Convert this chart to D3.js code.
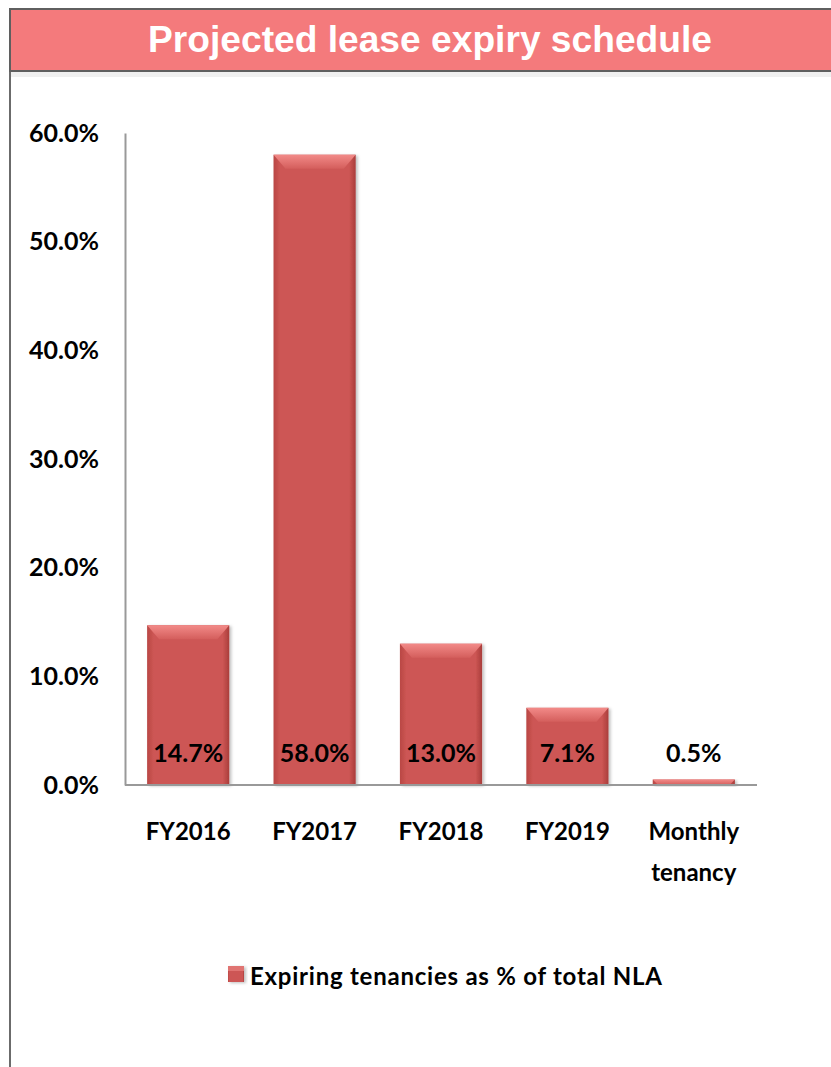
<!DOCTYPE html>
<html><head><meta charset="utf-8">
<script src="https://cdn.jsdelivr.net/npm/d3@7/dist/d3.min.js"></script>
<style>body{margin:0;background:#fff}svg{display:block}</style>
</head><body>
<script>
const categories = ["FY2016", "FY2017", "FY2018", "FY2019", "Monthly tenancy"];
const values = [14.7, 58.0, 13.0, 7.1, 0.5];
const valueLabels = ["14.7%", "58.0%", "13.0%", "7.1%", "0.5%"];
const yTicks = [0, 10, 20, 30, 40, 50, 60];
const title = "Projected lease expiry schedule";
const seriesName = "Expiring tenancies as % of total NLA";

const W = 831, H = 1067;
const svg = d3.select("body").append("svg").attr("width", W).attr("height", H);
const defs = svg.append("defs");
const g1 = defs.append("linearGradient").attr("id", "barH").attr("x1", 0).attr("x2", 1).attr("y1", 0).attr("y2", 0);
g1.append("stop").attr("offset", "0").attr("stop-color", "#b94744");
g1.append("stop").attr("offset", "0.08").attr("stop-color", "#cd5654");
g1.append("stop").attr("offset", "0.92").attr("stop-color", "#cd5654");
g1.append("stop").attr("offset", "1").attr("stop-color", "#a93d3b");
const g2 = defs.append("linearGradient").attr("id", "barTop").attr("x1", 0).attr("x2", 0).attr("y1", 0).attr("y2", 1);
g2.append("stop").attr("offset", "0").attr("stop-color", "#f28a88");
g2.append("stop").attr("offset", "1").attr("stop-color", "#d45e5c");
const flt = defs.append("filter").attr("id", "shadow").attr("x", "-10%").attr("y", "-10%").attr("width", "130%").attr("height", "130%");
flt.append("feDropShadow").attr("dx", 2).attr("dy", 1).attr("stdDeviation", 1.5).attr("flood-color", "#000").attr("flood-opacity", 0.25);

// frame
svg.append("line").attr("x1", 10).attr("x2", 10).attr("y1", 8).attr("y2", H).attr("stroke", "#6b6b6b").attr("stroke-width", 2);
svg.append("rect").attr("x", 10).attr("y", 9).attr("width", W).attr("height", 62)
  .attr("fill", "#f47a7c").attr("stroke", "#5f5f5f").attr("stroke-width", 2);
svg.append("rect").attr("x", 11).attr("y", 72).attr("width", W).attr("height", 5).attr("fill", "#e6e6e6").attr("opacity", 0.6);
svg.append("text").attr("x", 430).attr("y", 52).attr("text-anchor", "middle")
  .attr("font-family", "'Liberation Sans', Arial, sans-serif")
  .attr("font-weight", "bold").attr("font-size", 36).attr("fill", "#fff")
  .attr("textLength", 564).attr("lengthAdjust", "spacingAndGlyphs").text(title);

const x = d3.scaleBand().domain(categories).range([125, 757]).paddingInner(0.35).paddingOuter(0.175);
const y = d3.scaleLinear().domain([0, 60]).range([785, 133]);
const font = "Lato, 'Open Sans', sans-serif";

// y axis
const yAxis = d3.axisLeft(y).tickValues(yTicks).tickSize(0).tickPadding(26).tickFormat(d => d.toFixed(1) + "%");
const ya = svg.append("g").attr("transform", "translate(125,0)").call(yAxis);
ya.select(".domain").attr("stroke", "#999").attr("stroke-width", 2);
ya.selectAll("text").attr("font-family", font).attr("font-weight", "bold").attr("font-size", 25).attr("fill", "#000");

// bars
const bars = svg.append("g").selectAll("g").data(categories).join("g");
bars.append("rect")
  .attr("x", d => x(d)).attr("width", x.bandwidth())
  .attr("y", (d, i) => y(values[i])).attr("height", (d, i) => y(0) - y(values[i]))
  .attr("fill", "url(#barH)").attr("filter", "url(#shadow)");
bars.append("path")
  .attr("d", (d, i) => {
    const x0 = x(d), x1 = x0 + x.bandwidth(), t = y(values[i]), h = Math.min(14, (y(0) - t));
    const b = Math.min(12, h);
    return `M${x0},${t}L${x1},${t}L${x1 - b},${t + h}L${x0 + b},${t + h}Z`;
  })
  .attr("fill", "url(#barTop)");

// x axis line
svg.append("line").attr("x1", 125).attr("x2", 757).attr("y1", y(0)).attr("y2", y(0)).attr("stroke", "#999").attr("stroke-width", 2);

// value labels
svg.append("g").selectAll("text").data(categories).join("text")
  .attr("x", d => x(d) + x.bandwidth() / 2).attr("y", 762)
  .attr("text-anchor", "middle").attr("font-family", font).attr("font-weight", "bold").attr("font-size", 25).attr("fill", "#000")
  .text((d, i) => valueLabels[i]);

// category labels
const xl = svg.append("g").selectAll("text").data(categories).join("text")
  .attr("x", d => x(d) + x.bandwidth() / 2).attr("y", 840)
  .attr("text-anchor", "middle").attr("font-family", font).attr("font-weight", "bold").attr("font-size", 24).attr("fill", "#000");
xl.each(function(d) {
  const words = d.split(" ");
  d3.select(this).selectAll("tspan").data(words).join("tspan")
    .attr("x", x(d) + x.bandwidth() / 2).attr("dy", (w, j) => j === 0 ? 0 : 41).text(w => w);
});

// legend
svg.append("rect").attr("x", 228).attr("y", 966).attr("width", 16).attr("height", 16).attr("fill", "url(#barH)").attr("filter", "url(#shadow)");
svg.append("rect").attr("x", 228).attr("y", 966).attr("width", 16).attr("height", 5).attr("fill", "#e07472");
svg.append("text").attr("x", 250).attr("y", 985).attr("font-family", font).attr("font-weight", "bold").attr("font-size", 24).attr("fill", "#000")
  .attr("textLength", 412).attr("lengthAdjust", "spacing").text(seriesName);
</script>
</body></html>
